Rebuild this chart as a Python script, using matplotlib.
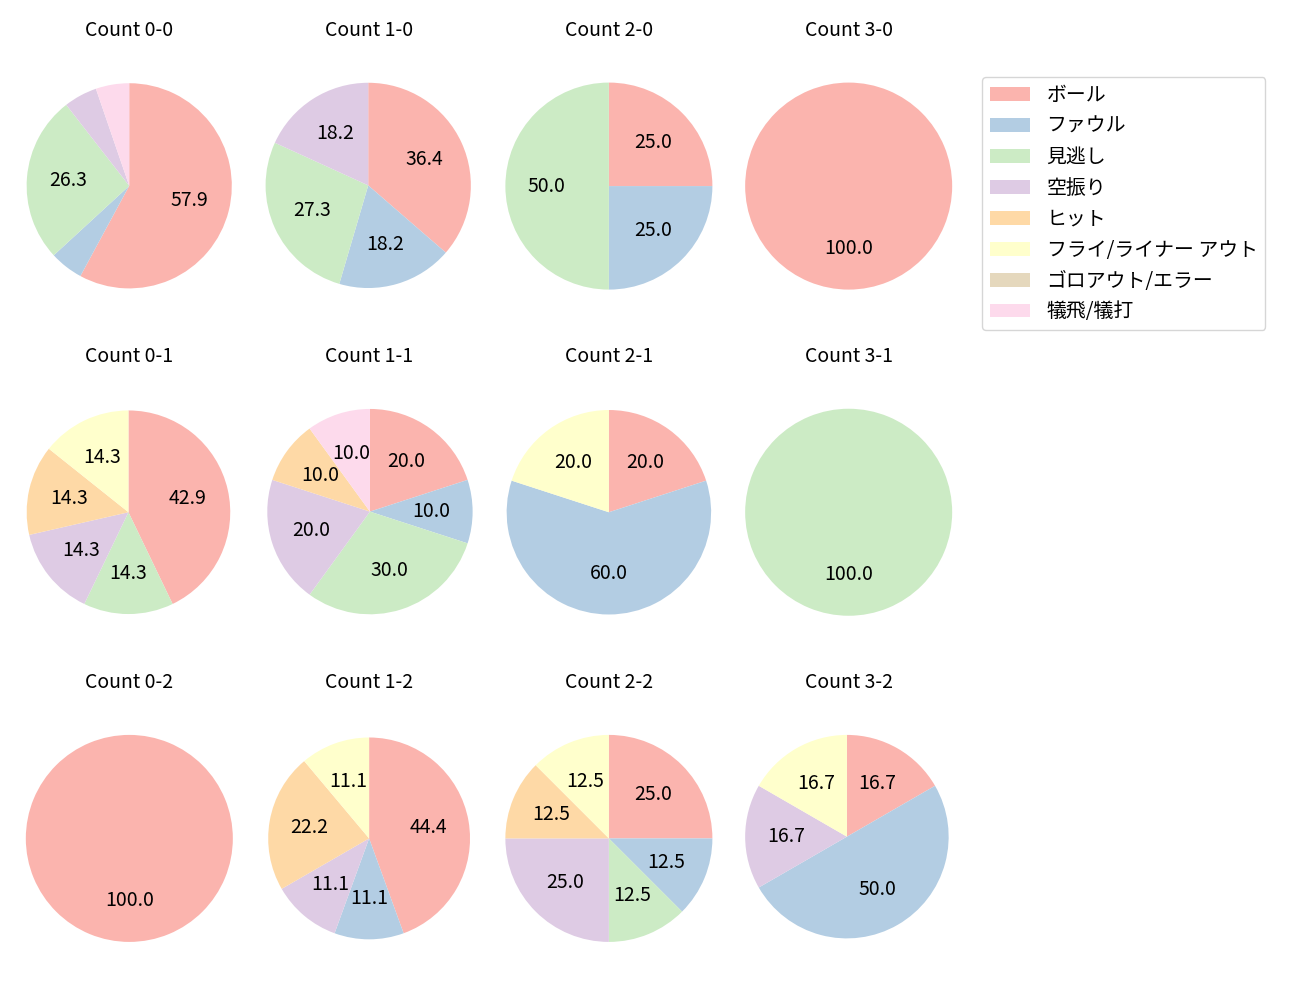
import matplotlib
matplotlib.use("Agg")
import matplotlib.pyplot as plt
import numpy as np

plt.rcParams['font.family'] = ['Noto Sans CJK JP', 'DejaVu Sans']
plt.rcParams['font.size'] = 14

categories = ['ボール', 'ファウル', '見逃し', '空振り', 'ヒット',
              'フライ/ライナー アウト', 'ゴロアウト/エラー', '犠飛/犠打']
colors = plt.get_cmap('Pastel1').colors[:8]

counts = ['0-0', '1-0', '2-0', '3-0',
          '0-1', '1-1', '2-1', '3-1',
          '0-2', '1-2', '2-2', '3-2']

c_0_0 = [11, 1, 5, 1, 0, 0, 0, 1]
c_1_0 = [4, 2, 3, 2, 0, 0, 0, 0]
c_2_0 = [1, 1, 2, 0, 0, 0, 0, 0]
c_3_0 = [1, 0, 0, 0, 0, 0, 0, 0]
c_0_1 = [3, 0, 1, 1, 1, 1, 0, 0]
c_1_1 = [2, 1, 3, 2, 1, 0, 0, 1]
c_2_1 = [1, 3, 0, 0, 0, 1, 0, 0]
c_3_1 = [0, 0, 1, 0, 0, 0, 0, 0]
c_0_2 = [1, 0, 0, 0, 0, 0, 0, 0]
c_1_2 = [4, 1, 0, 1, 2, 1, 0, 0]
c_2_2 = [2, 1, 1, 2, 1, 1, 0, 0]
c_3_2 = [1, 3, 0, 1, 0, 1, 0, 0]

values = [c_0_0, c_1_0, c_2_0, c_3_0,
          c_0_1, c_1_1, c_2_1, c_3_1,
          c_0_2, c_1_2, c_2_2, c_3_2]

fig, axes = plt.subplots(3, 4, figsize=(13, 10), dpi=100)
fig.subplots_adjust(left=0.0119, right=0.7404, top=0.952, bottom=0.0235,
                    wspace=0.053, hspace=0.181)

handles = None
for ax, name, vals in zip(axes.flat, counts, values):
    wedges, texts, autotexts = ax.pie(
        vals, colors=colors, startangle=90, counterclock=False,
        autopct=lambda p: f'{p:.1f}' if p >= 10 else '',
        textprops={'fontsize': 14})
    # autoscale from the wedge path vertices (incl. Bezier control points)
    verts = np.vstack([w.get_path().vertices for w in wedges])
    x0, y0 = verts.min(axis=0)
    x1, y1 = verts.max(axis=0)
    mx, my = 0.05 * (x1 - x0), 0.05 * (y1 - y0)
    ax.set_xlim(x0 - mx, x1 + mx)
    ax.set_ylim(y0 - my, y1 + my)
    ax.set_aspect('equal', adjustable='datalim')
    ax.set_title(f'Count {name}', fontsize=14, pad=9.0)
    if handles is None:
        handles = wedges

fig.legend(handles, categories, loc='upper left',
           bbox_to_anchor=(982 / 1300, 1 - 77 / 1000), borderaxespad=0,
           fontsize=14.3, handletextpad=0.85)

fig.savefig('out.png', dpi=100)
